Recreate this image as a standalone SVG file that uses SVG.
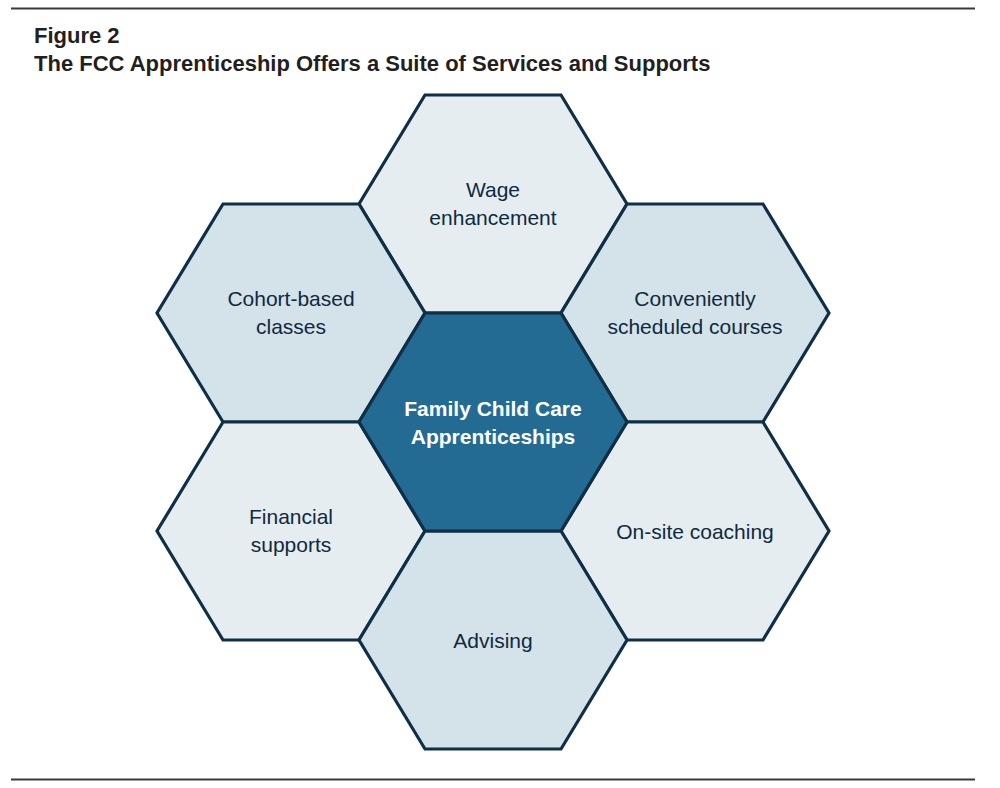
<svg xmlns="http://www.w3.org/2000/svg" width="1000" height="788" viewBox="0 0 1000 788">
<style>
.rule{stroke:#3a3a3a;stroke-width:2;}
.title{font-family:"Liberation Sans",Arial,sans-serif;font-weight:bold;font-size:22px;fill:#231f20;}
.hex{stroke:#0f2f47;stroke-width:3.2;stroke-linejoin:miter;}
.light{fill:#e5edf1;}
.mid{fill:#d4e2ea;}
.dark{fill:#246b93;}
.lbl{font-family:"Liberation Sans",Arial,sans-serif;font-size:21px;fill:#0f2a40;text-anchor:middle;}
.clbl{font-family:"Liberation Sans",Arial,sans-serif;font-size:21px;font-weight:bold;fill:#ffffff;text-anchor:middle;}
</style>
<defs>
<polygon id="hx" points="-68,-109 68,-109 134,0 68,109 -68,109 -134,0"/>
</defs>
<rect width="1000" height="788" fill="#ffffff"/>
<line class="rule" x1="11" y1="8.5" x2="975" y2="8.5"/>
<line class="rule" x1="11" y1="779.5" x2="975" y2="779.5"/>
<text class="title" x="34" y="43">Figure 2</text>
<text class="title" x="34" y="70.5">The FCC Apprenticeship Offers a Suite of Services and Supports</text>
<g id="connectors"/>
<g id="wage">
<use href="#hx" x="493" y="204" class="hex light"/>
<text class="lbl" x="493" y="197">Wage</text>
<text class="lbl" x="493" y="224.5">enhancement</text>
</g>
<g id="cohort">
<use href="#hx" x="291" y="313" class="hex mid"/>
<text class="lbl" x="291" y="306">Cohort-based</text>
<text class="lbl" x="291" y="333.5">classes</text>
</g>
<g id="convenient">
<use href="#hx" x="695" y="313" class="hex mid"/>
<text class="lbl" x="695" y="306">Conveniently</text>
<text class="lbl" x="695" y="333.5">scheduled courses</text>
</g>
<g id="financial">
<use href="#hx" x="291" y="531" class="hex light"/>
<text class="lbl" x="291" y="524">Financial</text>
<text class="lbl" x="291" y="551.5">supports</text>
</g>
<g id="onsite">
<use href="#hx" x="695" y="531" class="hex light"/>
<text class="lbl" x="695" y="538.5">On-site coaching</text>
</g>
<g id="advising">
<use href="#hx" x="493" y="640" class="hex mid"/>
<text class="lbl" x="493" y="648">Advising</text>
</g>
<g id="center">
<use href="#hx" x="493" y="422" class="hex dark"/>
<text class="clbl" x="493" y="416">Family Child Care</text>
<text class="clbl" x="493" y="443.5">Apprenticeships</text>
</g>
</svg>
